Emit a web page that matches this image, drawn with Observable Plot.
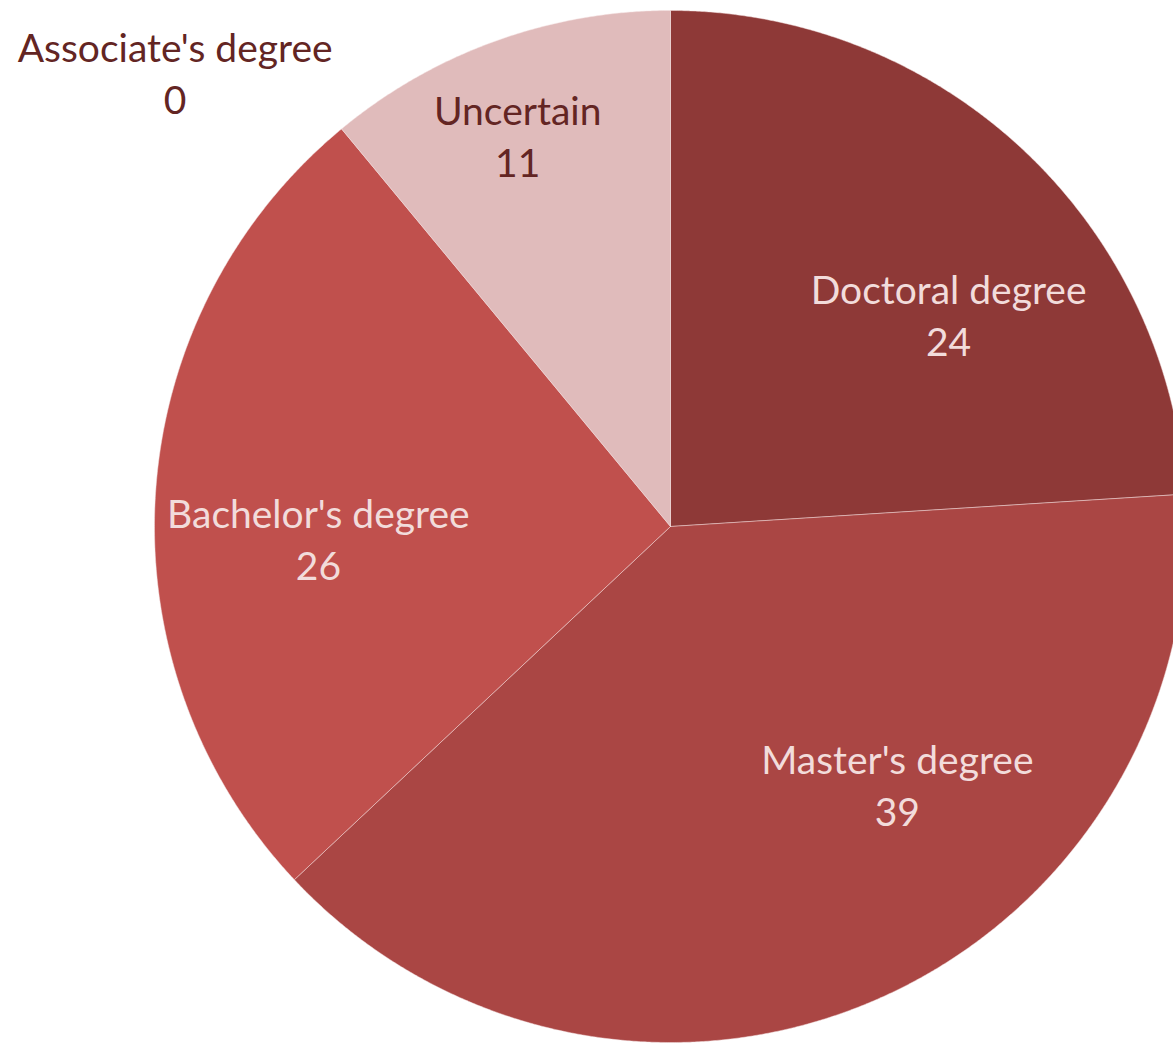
<!DOCTYPE html>
<html>
<head>
<meta charset="utf-8">
<script src="https://cdn.jsdelivr.net/npm/d3@7"></script>
<script src="https://cdn.jsdelivr.net/npm/@observablehq/plot@0.6"></script>
<style>
  html, body { margin: 0; padding: 0; background: #ffffff; }
  #chart { width: 1173px; height: 1044px; overflow: hidden; }
</style>
</head>
<body>
<div id="chart"></div>
<script>
// ---- data ----
const categories = ["Doctoral degree", "Master's degree", "Bachelor's degree", "Associate's degree", "Uncertain"];
const values = [24, 39, 26, 0, 11];
const sliceColors = ["#8E3937", "#AA4644", "#C0504D", "#C0504D", "#E0BBBB"];
const labelColors = ["#F2DCDB", "#F2DCDB", "#F2DCDB", "#632523", "#632523"];
// label anchor placement (polar: degrees clockwise from 12 o'clock, fraction of radius)
const labelAngle = [53.1, 139.0, 267.6, 312.3, 338.5];
const labelRadius = [0.674, 0.670, 0.683, 1.298, 0.808];

// ---- layout ----
const W = 1173, H = 1044;
const cx = 670, cy = 526, R = 516;

// ---- build slice polygons from the data ----
const arcs = d3.pie().sort(null).value(d => d)(values);
const pts = [];
arcs.forEach((a, i) => {
  if (values[i] <= 0) return;
  const cat = categories[i];
  pts.push({cat, x: 0, y: 0});
  const n = Math.max(2, Math.ceil((a.endAngle - a.startAngle) / (Math.PI / 720)));
  for (let k = 0; k <= n; k++) {
    const t = a.startAngle + (a.endAngle - a.startAngle) * k / n;
    pts.push({cat, x: Math.sin(t), y: Math.cos(t)});
  }
  pts.push({cat, x: 0, y: 0});
});

const labels = categories.map((c, i) => {
  const t = labelAngle[i] * Math.PI / 180;
  return {
    cat: c,
    text: c + "\n" + values[i],
    x: labelRadius[i] * Math.sin(t),
    y: labelRadius[i] * Math.cos(t),
    color: labelColors[i]
  };
});

const plot = Plot.plot({
  width: W,
  height: H,
  margin: 0,
  style: {background: "#ffffff", fontFamily: "Lato, 'Open Sans', sans-serif"},
  x: {domain: [-cx / R, (W - cx) / R], axis: null},
  y: {domain: [-(H - cy) / R, cy / R], axis: null},
  color: {domain: categories, range: sliceColors},
  marks: [
    Plot.line(pts, {x: "x", y: "y", z: "cat", fill: "cat", stroke: "#F4E2E1", strokeWidth: 0.6, strokeOpacity: 0.8, curve: "linear"}),
    Plot.text(labels, {
      x: "x", y: "y", text: "text", fill: d => d.color,
      fontSize: 39, lineHeight: 1.333, dy: -4, textAnchor: "middle", lineAnchor: "middle"
    })
  ]
});
document.getElementById("chart").append(plot);
</script>
</body>
</html>
